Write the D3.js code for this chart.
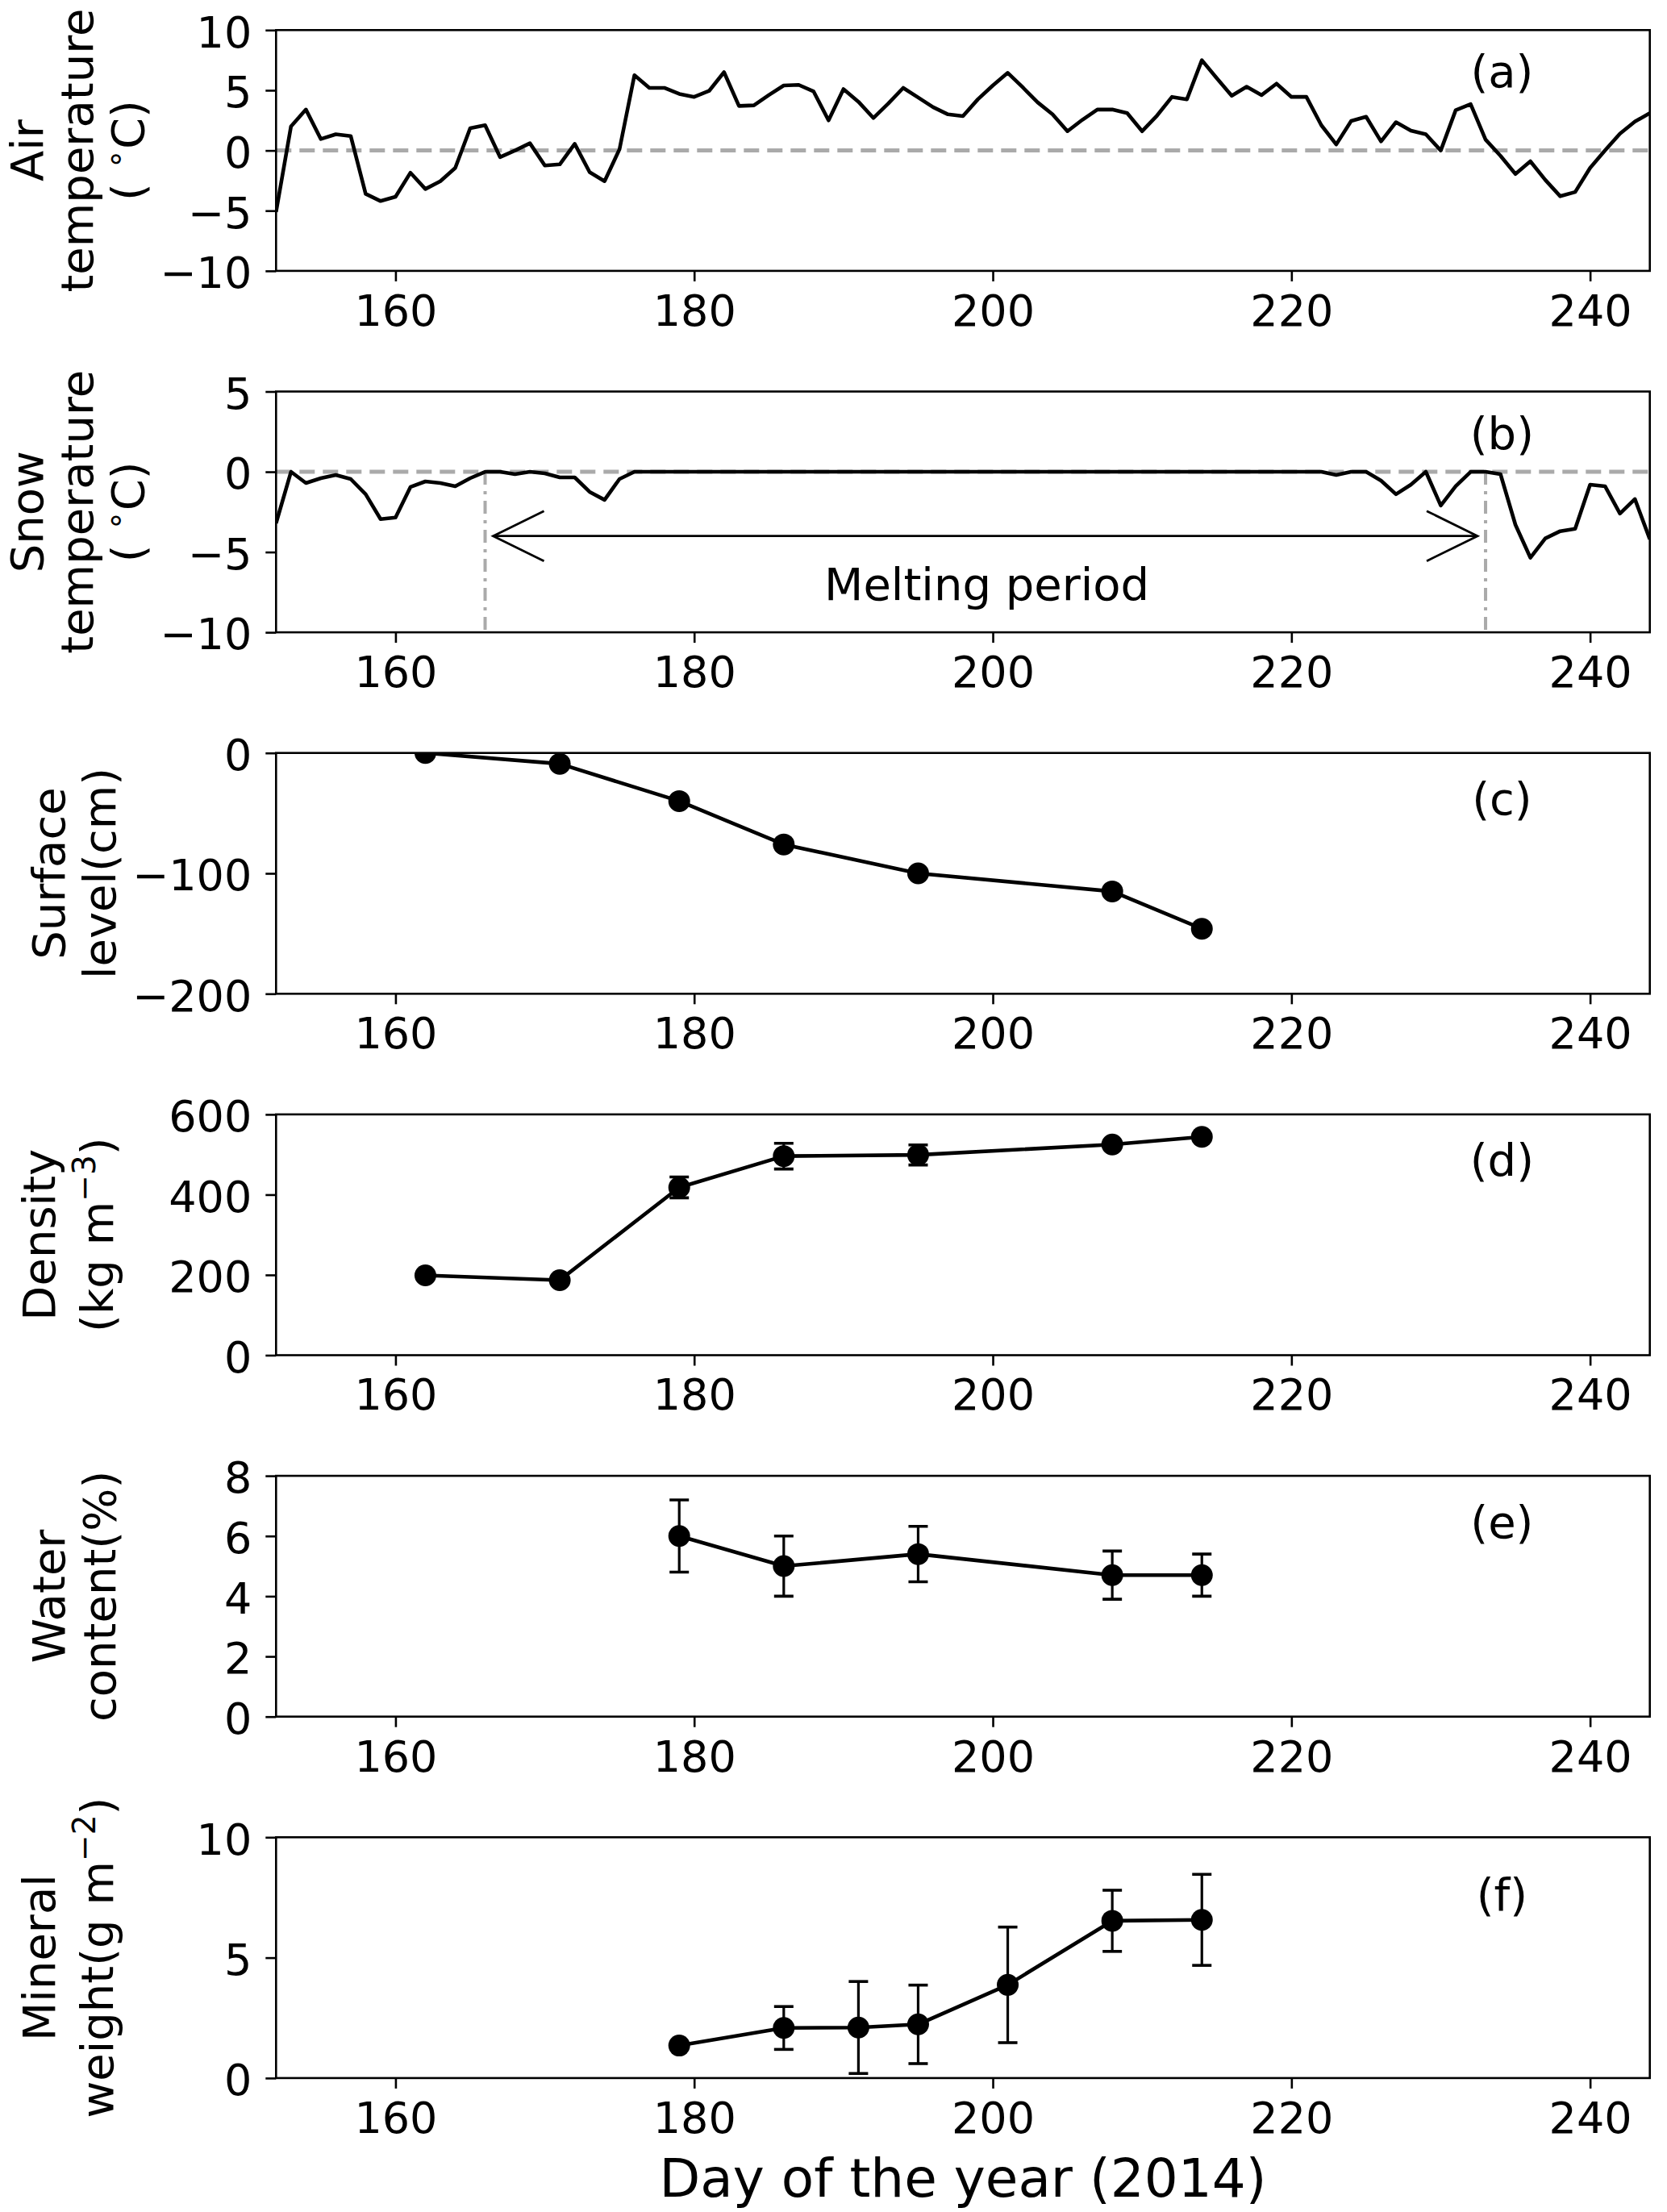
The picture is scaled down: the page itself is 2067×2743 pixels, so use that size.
<!DOCTYPE html>
<html>
<head>
<meta charset="utf-8">
<script src="https://cdn.jsdelivr.net/npm/d3@7"></script>
<style>
body { margin: 0; background: #fff; }
text { font-family: "DejaVu Sans", sans-serif; fill: #000; }
</style>
</head>
<body>
<svg id="fig"></svg>
<script>
// daily series, day of year 2014
const days = [152,153,154,155,156,157,158,159,160,161,162,163,164,165,166,167,168,169,170,171,
  172,173,174,175,176,177,178,179,180,181,182,183,184,185,186,187,188,189,190,191,
  192,193,194,195,196,197,198,199,200,201,202,203,204,205,206,207,208,209,210,211,
  212,213,214,215,216,217,218,219,220,221,222,223,224,225,226,227,228,229,230,231,
  232,233,234,235,236,237,238,239,240,241,242,243,244];

const airTemp = [-5.1,2.0,3.4,0.95,1.35,1.2,-3.6,-4.2,-3.85,-1.85,-3.2,-2.55,-1.45,1.85,2.1,-0.55,0.0,0.6,-1.25,-1.15,
  0.55,-1.8,-2.55,0.1,6.25,5.2,5.2,4.7,4.45,4.95,6.5,3.7,3.75,4.6,5.4,5.45,4.9,2.5,5.1,4.05,
  2.7,3.9,5.2,4.4,3.6,3.0,2.85,4.25,5.4,6.45,5.25,4.0,3.0,1.6,2.55,3.4,3.4,3.1,1.6,2.9,
  4.45,4.25,7.5,6.0,4.55,5.3,4.6,5.55,4.45,4.45,2.1,0.5,2.45,2.8,0.75,2.35,1.65,1.35,0.0,3.35,
  3.85,0.9,-0.45,-1.95,-0.9,-2.45,-3.8,-3.45,-1.45,0.0,1.4,2.4,3.1];

const snowTemp = [-3.2,0.0,-0.7,-0.4,-0.2,-0.45,-1.4,-2.95,-2.85,-0.95,-0.6,-0.7,-0.9,-0.4,0,0,-0.15,0,-0.1,-0.35,
  -0.35,-1.25,-1.75,-0.45,0,0,0,0,0,0,0,0,0,0,0,0,0,0,0,0,
  0,0,0,0,0,0,0,0,0,0,0,0,0,0,0,0,0,0,0,0,
  0,0,0,0,0,0,0,0,0,0,0,-0.2,0,0,-0.55,-1.4,-0.8,0,-2.1,-0.9,
  0,0,-0.15,-3.3,-5.35,-4.15,-3.7,-3.55,-0.8,-0.9,-2.6,-1.7,-4.2];

const meltStart = 166, meltEnd = 233;

// snow pit measurements
const profileDays = [162,171,179,186,195,208,214];
const surfaceLevel = [0,-9,-40,-76,-100,-115,-146];
const density = [199,187,418,496,499,525,544];
const densityErr = [0,0,26,32,25,0,0];

const waterDays = [179,186,195,208,214];
const waterContent = [6.0,5.0,5.4,4.7,4.7];
const waterErr = [1.2,1.0,0.92,0.8,0.7];

const mineralDays = [179,186,191,195,201,208,214];
const mineralWeight = [1.35,2.08,2.1,2.23,3.87,6.53,6.57];
const mineralErr = [0,0.89,1.91,1.63,2.4,1.27,1.89];

const dayTicks = [160,180,200,220,240];
const airTicks = [-10,-5,0,5,10];
const snowTicks = [-10,-5,0,5];
const surfaceTicks = [-200,-100,0];
const densityTicks = [0,200,400,600];
const waterTicks = [0,2,4,6,8];
const mineralTicks = [0,5,10];

const WIDTH = 2067, HEIGHT = 2743;
const LEFT = 342.3, RIGHT = 2045.7;
const TOP0 = 37.3, STEP = 448.2, PH = 298.6;
const FS = 54;

const svg = d3.select('#fig').attr('width', WIDTH).attr('height', HEIGHT);

const x = d3.scaleLinear().domain([152, 244]).range([LEFT, RIGHT]);

const zip = (xs, ys, es) => xs.map((d, i) => ({x: d, y: ys[i], e: es ? es[i] : 0}));

const panels = [
  {tag: '(a)', tagY: 6.6, domain: [-10, 10], ticks: airTicks, series: zip(days, airTemp), zero: true,
   label: [[['Air']], [['temperature']], [['( '], ['\u2218', 1], ['C)']]], labelX: [53, 115, 178]},
  {tag: '(b)', tagY: 2.4, domain: [-10, 5], ticks: snowTicks, series: zip(days, snowTemp), zero: true, melt: true,
   label: [[['Snow']], [['temperature']], [['( '], ['\u2218', 1], ['C)']]], labelX: [53, 115, 178]},
  {tag: '(c)', tagY: -38, domain: [-200, 0], ticks: surfaceTicks, series: zip(profileDays, surfaceLevel), dots: true,
   label: [[['Surface']], [['level(cm)']]], labelX: [80, 143]},
  {tag: '(d)', tagY: 486, domain: [0, 600], ticks: densityTicks, series: zip(profileDays, density, densityErr), dots: true,
   label: [[['Density']], [['(kg m'], ['\u22123', 1], [')']]], labelX: [68, 140]},
  {tag: '(e)', tagY: 6.45, domain: [0, 8], ticks: waterTicks, series: zip(waterDays, waterContent, waterErr), dots: true,
   label: [[['Water']], [['content(%)']]], labelX: [80, 143]},
  {tag: '(f)', tagY: 7.6, domain: [0, 10], ticks: mineralTicks, series: zip(mineralDays, mineralWeight, mineralErr), dots: true,
   label: [[['Mineral']], [['weight(g m'], ['\u22122', 1], [')']]], labelX: [68, 140]}
];

panels.forEach((p, i) => {
  const top = TOP0 + i * STEP, bottom = top + PH;
  const y = d3.scaleLinear().domain(p.domain).range([bottom, top]);
  const g = svg.append('g');

  const clipId = 'clip' + i;
  svg.append('clipPath').attr('id', clipId)
    .append('rect').attr('x', LEFT).attr('y', top).attr('width', RIGHT - LEFT).attr('height', PH);
  const plot = g.append('g').attr('clip-path', `url(#${clipId})`);

  if (p.zero) {
    plot.append('line')
      .attr('x1', LEFT).attr('x2', RIGHT).attr('y1', y(0)).attr('y2', y(0))
      .style('stroke', '#aaaaaa').style('stroke-width', 5).style('stroke-dasharray', '19,10');
  }

  if (p.melt) {
    [meltStart, meltEnd].forEach(d => {
      plot.append('line')
        .attr('x1', x(d)).attr('x2', x(d)).attr('y1', y(0)).attr('y2', y(-10))
        .style('stroke', '#aaaaaa').style('stroke-width', 4).style('stroke-dasharray', '16,8,4,8');
    });
    const ay = y(-4), xl = x(meltStart) + 10, xr = x(meltEnd) - 10;
    plot.append('line').attr('x1', xl).attr('x2', xr).attr('y1', ay).attr('y2', ay)
      .style('stroke', '#000').style('stroke-width', 2.8);
    plot.append('polyline').attr('points', `${xl + 63},${ay - 31} ${xl},${ay} ${xl + 63},${ay + 31}`)
      .style('fill', 'none').style('stroke', '#000').style('stroke-width', 2.8);
    plot.append('polyline').attr('points', `${xr - 63},${ay - 31} ${xr},${ay} ${xr - 63},${ay + 31}`)
      .style('fill', 'none').style('stroke', '#000').style('stroke-width', 2.8);
    g.append('text')
      .attr('x', x(199.6)).attr('y', y(-8))
      .attr('text-anchor', 'middle').style('font-size', '56px')
      .text('Melting period');
  }

  // error bars
  const eb = plot.selectAll('g.err').data(p.series.filter(d => d.e > 0)).enter().append('g');
  eb.append('line')
    .attr('x1', d => x(d.x)).attr('x2', d => x(d.x))
    .attr('y1', d => y(d.y - d.e)).attr('y2', d => y(d.y + d.e))
    .style('stroke', '#000').style('stroke-width', 3.2);
  [-1, 1].forEach(s => {
    eb.append('line')
      .attr('x1', d => x(d.x) - 12).attr('x2', d => x(d.x) + 12)
      .attr('y1', d => y(d.y + s * d.e)).attr('y2', d => y(d.y + s * d.e))
      .style('stroke', '#000').style('stroke-width', 3.6);
  });

  plot.append('path')
    .datum(p.series)
    .attr('d', d3.line().x(d => x(d.x)).y(d => y(d.y)))
    .style('fill', 'none').style('stroke', '#000').style('stroke-width', 4.6)
    .style('stroke-linejoin', 'round');

  if (p.dots) {
    plot.selectAll('circle').data(p.series).enter().append('circle')
      .attr('cx', d => x(d.x)).attr('cy', d => y(d.y)).attr('r', 13.5)
      .style('fill', '#000');
  }

  // axes
  const xAxis = g.append('g').attr('transform', `translate(0,${bottom})`)
    .call(d3.axisBottom(x).tickValues(dayTicks).tickSizeInner(13).tickSizeOuter(0).tickPadding(16.5));
  const yAxis = g.append('g').attr('transform', `translate(${LEFT},0)`)
    .call(d3.axisLeft(y).tickValues(p.ticks).tickSizeInner(13).tickSizeOuter(0).tickPadding(17));
  [xAxis, yAxis].forEach(a => {
    a.select('.domain').remove();
    a.selectAll('line').style('stroke', '#000').style('stroke-width', 2.6);
    a.selectAll('text').style('font-size', FS + 'px').style('font-family', '"DejaVu Sans", sans-serif');
  });
  yAxis.selectAll('text').attr('dy', '0.385em');

  g.append('rect')
    .attr('x', LEFT).attr('y', top).attr('width', RIGHT - LEFT).attr('height', PH)
    .style('fill', 'none').style('stroke', '#000').style('stroke-width', 2.6);

  g.append('text')
    .attr('x', x(234.1)).attr('y', y(p.tagY))
    .attr('text-anchor', 'middle').attr('dominant-baseline', 'central')
    .style('font-size', '56px').text(p.tag);

  // multi-line rotated y label
  const cy = (top + bottom) / 2;
  p.label.forEach((line, k) => {
    const t = g.append('text')
      .attr('transform', `translate(${p.labelX[k]},${cy}) rotate(-90)`)
      .attr('text-anchor', 'middle').style('font-size', '56px');
    let shifted = false;
    line.forEach(seg => {
      const ts = t.append('tspan').text(seg[0]);
      if (seg[1]) {
        ts.attr('dy', -22).style('font-size', '39px');
        shifted = true;
      } else if (shifted) {
        ts.attr('dy', 22);
        shifted = false;
      }
    });
  });
});

svg.append('text')
  .attr('x', (LEFT + RIGHT) / 2).attr('y', 2724)
  .attr('text-anchor', 'middle').style('font-size', '66px')
  .text('Day of the year (2014)');
</script>
</body>
</html>
